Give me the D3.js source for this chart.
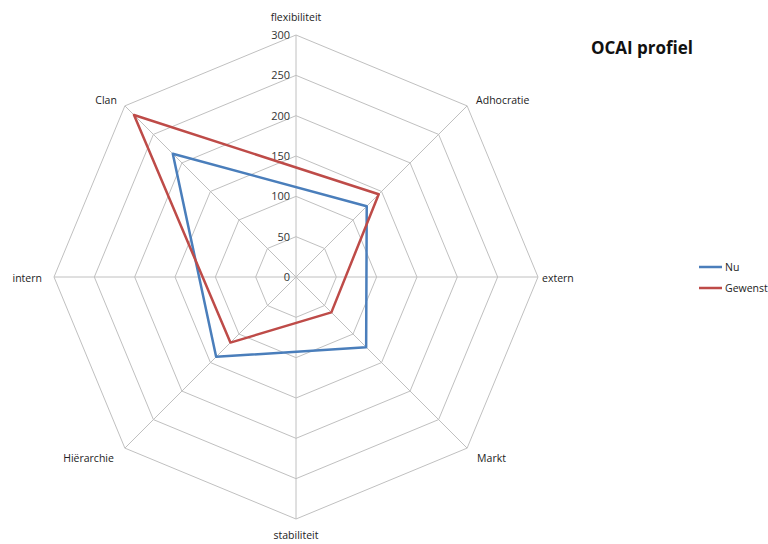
<!DOCTYPE html>
<html>
<head>
<meta charset="utf-8">
<script src="https://cdn.jsdelivr.net/npm/d3@7"></script>
<style>
  body { margin: 0; background: #fff; }
  svg { display: block; font-family: "Open Sans", "Noto Sans", sans-serif; }
</style>
</head>
<body>
<div id="app"></div>
<script>
// Categories clockwise from the top
const categories = ["flexibiliteit", "Adhocratie", "extern", "Markt", "stabiliteit", "Hiërarchie", "intern", "Clan"];
// Blank cells (null) are skipped and the line connects across them
const nuValues      = [null, 124, null, 123, null, 140, null, 216];
const gewenstValues = [null, 145, null, 62,  null, 115, null, 284];
const tickValues = [0, 50, 100, 150, 200, 250, 300];
const seriesNames = ["Nu", "Gewenst"];
const seriesColors = ["#4a7ebb", "#be4b48"];

function drawChart(targetDiv) {
  const width = 768, height = 544;
  const cx = 296, cy = 277, radius = 242;

  const svg = d3.select(targetDiv).append("svg")
    .attr("width", width)
    .attr("height", height)
    .attr("viewBox", [0, 0, width, height]);

  const r = d3.scaleLinear().domain([0, 300]).range([0, radius]);
  const angle = d3.scaleLinear().domain([0, categories.length]).range([0, 2 * Math.PI]);
  const point = (i, v) => [cx + r(v) * Math.sin(angle(i)), cy - r(v) * Math.cos(angle(i))];

  // Grid octagons
  const grid = svg.append("g").attr("fill", "none").attr("stroke", "#c0c0c0").attr("stroke-width", 1);
  tickValues.filter(d => d > 0).forEach(t => {
    grid.append("polygon")
      .attr("points", categories.map((c, i) => point(i, t).join(",")).join(" "));
  });
  // Spokes
  categories.forEach((c, i) => {
    const [x, y] = point(i, 300);
    grid.append("line").attr("x1", cx).attr("y1", cy).attr("x2", x).attr("y2", y);
  });

  // Tick labels along the top axis
  svg.append("g")
    .selectAll("text")
    .data(tickValues)
    .join("text")
    .attr("x", cx - 6)
    .attr("y", d => cy - r(d))
    .attr("dy", "0.35em")
    .attr("text-anchor", "end")
    .attr("font-size", 11)
    .attr("fill", "#333")
    .text(d => d);

  // Category labels
  const labelPos = [
    {dx: 0, dy: -18, anchor: "middle"},
    {dx: 9, dy: -6, anchor: "start"},
    {dx: 4, dy: 1, anchor: "start"},
    {dx: 10, dy: 10, anchor: "start"},
    {dx: 0, dy: 16, anchor: "middle"},
    {dx: -11, dy: 10, anchor: "end"},
    {dx: -12, dy: 1, anchor: "end"},
    {dx: -8, dy: -6, anchor: "end"}
  ];
  svg.append("g")
    .selectAll("text")
    .data(categories)
    .join("text")
    .attr("x", (d, i) => point(i, 300)[0] + labelPos[i].dx)
    .attr("y", (d, i) => point(i, 300)[1] + labelPos[i].dy)
    .attr("dy", "0.35em")
    .attr("text-anchor", (d, i) => labelPos[i].anchor)
    .attr("font-size", 10.5)
    .attr("fill", "#222")
    .text(d => d);

  // Series lines (closed, blanks connected)
  const line = d3.line().curve(d3.curveLinearClosed);
  [nuValues, gewenstValues].forEach((vals, s) => {
    const pts = vals.map((v, i) => v == null ? null : point(i, v)).filter(p => p);
    svg.append("path")
      .attr("d", line(pts))
      .attr("fill", "none")
      .attr("stroke", seriesColors[s])
      .attr("stroke-width", 2.5)
      .attr("stroke-linejoin", "round");
  });

  // Title
  svg.append("text")
    .attr("x", 642).attr("y", 48)
    .attr("dy", "0.35em")
    .attr("text-anchor", "middle")
    .attr("font-size", 17)
    .attr("font-weight", "bold")
    .attr("fill", "#111")
    .text("OCAI profiel");

  // Legend
  const legend = svg.append("g")
    .selectAll("g")
    .data(seriesNames)
    .join("g")
    .attr("transform", (d, i) => `translate(699, ${267 + i * 21})`);
  legend.append("line")
    .attr("x1", 0).attr("x2", 23)
    .attr("stroke", (d, i) => seriesColors[i])
    .attr("stroke-width", 2.5);
  legend.append("text")
    .attr("x", 26).attr("dy", "0.35em")
    .attr("font-size", 10.5)
    .attr("fill", "#222")
    .text(d => d);
}

drawChart("#app");
</script>
</body>
</html>
